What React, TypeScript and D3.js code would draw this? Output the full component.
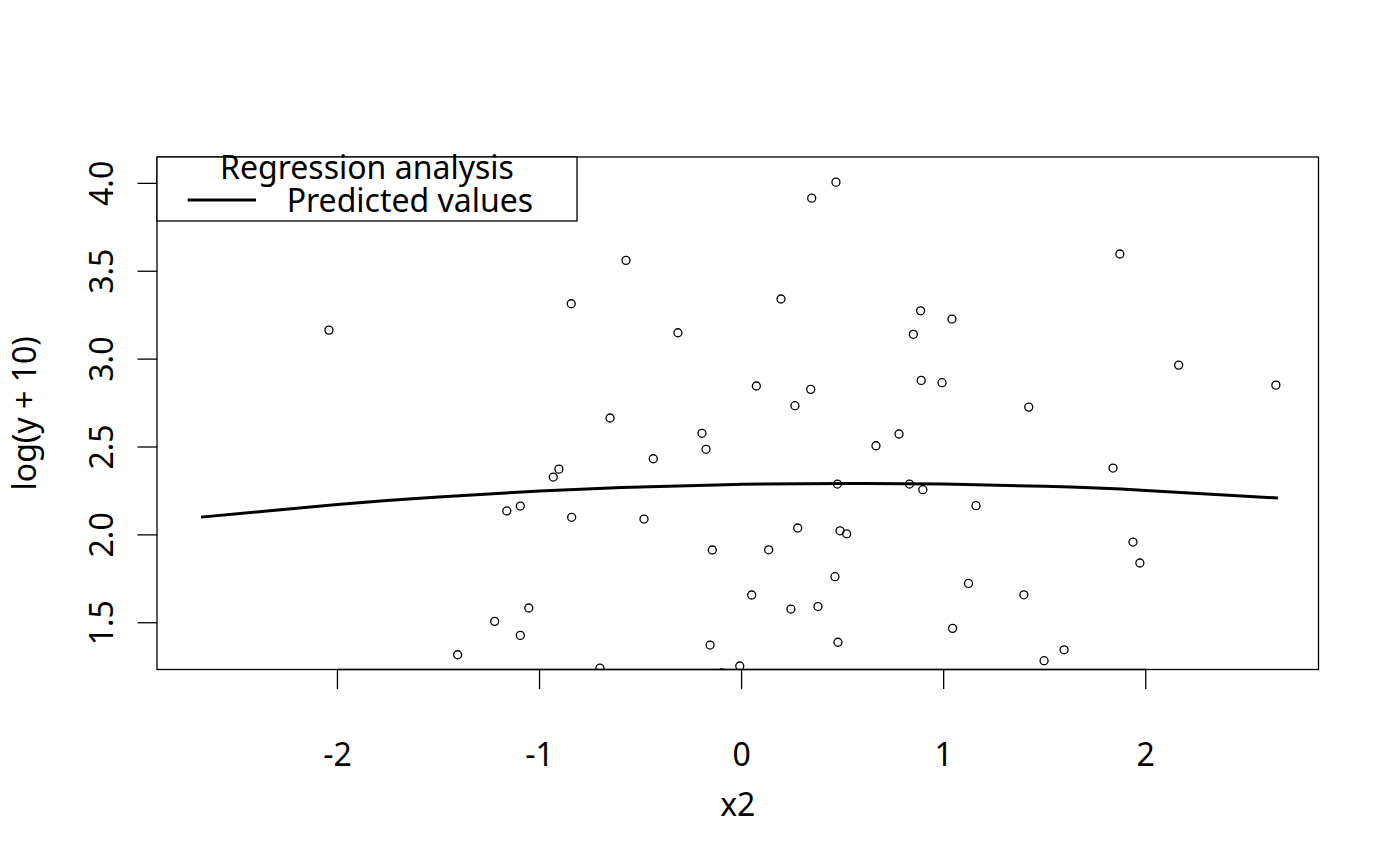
import React from "react";
import * as d3 from "d3";

const W = 1400;
const H = 866;

// Observed points (x2, log(y + 10))
const pointX = [
  -2.042, -0.843, -0.572, -0.315, 0.467, 0.347, 0.195, 0.886, 1.041, 0.85,
  1.872, 2.163, 2.644, 0.073, 0.342, 0.264, -0.651, 0.889, 0.992, 1.421,
  -0.196, -0.176, -0.437, -0.904, -0.932, 0.665, 0.779, 0.4745, 0.831, 0.897,
  1.838, -1.162, -1.095, -0.841, -0.483, 0.278, 0.487, 0.52, 1.16, -0.145,
  0.134, 1.937, 1.971, 0.462, 1.123, 0.05, 0.244, 0.378, -1.053, -1.222,
  -1.095, 1.397, 1.044, 0.477, -0.156, -1.405, 1.497, 1.596, -0.701, -0.098,
  -0.009,
];
const pointY = [
  3.165, 3.315, 3.562, 3.15, 4.007, 3.916, 3.342, 3.275, 3.228, 3.141,
  3.598, 2.966, 2.852, 2.847, 2.828, 2.735, 2.665, 2.879, 2.866, 2.727,
  2.578, 2.487, 2.433, 2.374, 2.329, 2.507, 2.574, 2.289, 2.289, 2.257,
  2.38, 2.136, 2.164, 2.1, 2.09, 2.039, 2.023, 2.006, 2.166, 1.914,
  1.915, 1.959, 1.84, 1.762, 1.724, 1.658, 1.578, 1.592, 1.584, 1.508,
  1.428, 1.659, 1.468, 1.389, 1.373, 1.318, 1.284, 1.346, 1.242, 1.214,
  1.254,
];

// Predicted values curve
const curveX = [-2.675, -2, -1.5, -1, -0.5, 0, 0.5, 1, 1.5, 2, 2.654];
const curveY = [2.101, 2.173, 2.216, 2.249, 2.273, 2.288, 2.293, 2.289, 2.276, 2.253, 2.2095];

const xTicks = [-2, -1, 0, 1, 2];
const yTicks = [1.5, 2.0, 2.5, 3.0, 3.5, 4.0];

const xLabel = "x2";
const yLabel = "log(y + 10)";
const legendTitle = "Regression analysis";
const legendItem = "Predicted values";

export default function App() {
  const left = 157;
  const right = 1318.5;
  const top = 157;
  const bottom = 669.5;

  const x = d3.scaleLinear().domain([-2.893, 2.855]).range([left, right]);
  const y = d3.scaleLinear().domain([1.234, 4.15]).range([bottom, top]);

  const line = d3
    .line<number>()
    .x((_, i) => x(curveX[i]))
    .y((_, i) => y(curveY[i]))
    .curve(d3.curveNatural);

  const font = "'Noto Sans', 'Open Sans', sans-serif";
  const fs = 32;

  return (
    <svg
      width={W}
      height={H}
      style={{ position: "absolute", left: 0, top: 0, background: "#fff" }}
      fontFamily={font}
    >
      <rect x={0} y={0} width={W} height={H} fill="#fff" />
      <defs>
        <clipPath id="plotclip">
          <rect x={left} y={top} width={right - left} height={bottom - top} />
        </clipPath>
      </defs>

      <g clipPath="url(#plotclip)">
        {pointX.map((px, i) => (
          <circle
            key={i}
            cx={x(px)}
            cy={y(pointY[i])}
            r={4.0}
            fill="none"
            stroke="#000"
            strokeWidth={1.3}
          />
        ))}
        <path d={line(curveX) || ""} fill="none" stroke="#000" strokeWidth={3} />
      </g>

      <rect
        x={left}
        y={top}
        width={right - left}
        height={bottom - top}
        fill="none"
        stroke="#000"
        strokeWidth={1.3}
      />

      {/* x axis */}
      <line x1={x(-2)} x2={x(2)} y1={bottom} y2={bottom} stroke="#000" strokeWidth={1.3} />
      {xTicks.map((t) => (
        <g key={t}>
          <line x1={x(t)} x2={x(t)} y1={bottom} y2={bottom + 19.5} stroke="#000" strokeWidth={1.3} />
          <text x={x(t)} y={766} textAnchor="middle" fontSize={fs} fill="#000">
            {t}
          </text>
        </g>
      ))}
      <text x={(left + right) / 2} y={816} textAnchor="middle" fontSize={fs} fill="#000">
        {xLabel}
      </text>

      {/* y axis */}
      {yTicks.map((t) => (
        <g key={t}>
          <line x1={left - 19.5} x2={left} y1={y(t)} y2={y(t)} stroke="#000" strokeWidth={1.3} />
          <text
            transform={`translate(113,${y(t)}) rotate(-90)`}
            textAnchor="middle"
            fontSize={fs}
            fill="#000"
          >
            {t.toFixed(1)}
          </text>
        </g>
      ))}
      <text
        transform={`translate(36,${(top + bottom) / 2}) rotate(-90)`}
        textAnchor="middle"
        fontSize={fs}
        fill="#000"
      >
        {yLabel}
      </text>

      {/* legend */}
      <rect x={left} y={top} width={577 - left} height={221 - top} fill="#fff" stroke="#000" strokeWidth={1.3} />
      <text x={(left + 577) / 2} y={178.5} textAnchor="middle" fontSize={fs} fill="#000">
        {legendTitle}
      </text>
      <line x1={187.7} x2={256} y1={200} y2={200} stroke="#000" strokeWidth={3} />
      <text x={286.7} y={211.7} fontSize={fs} fill="#000">
        {legendItem}
      </text>
    </svg>
  );
}
